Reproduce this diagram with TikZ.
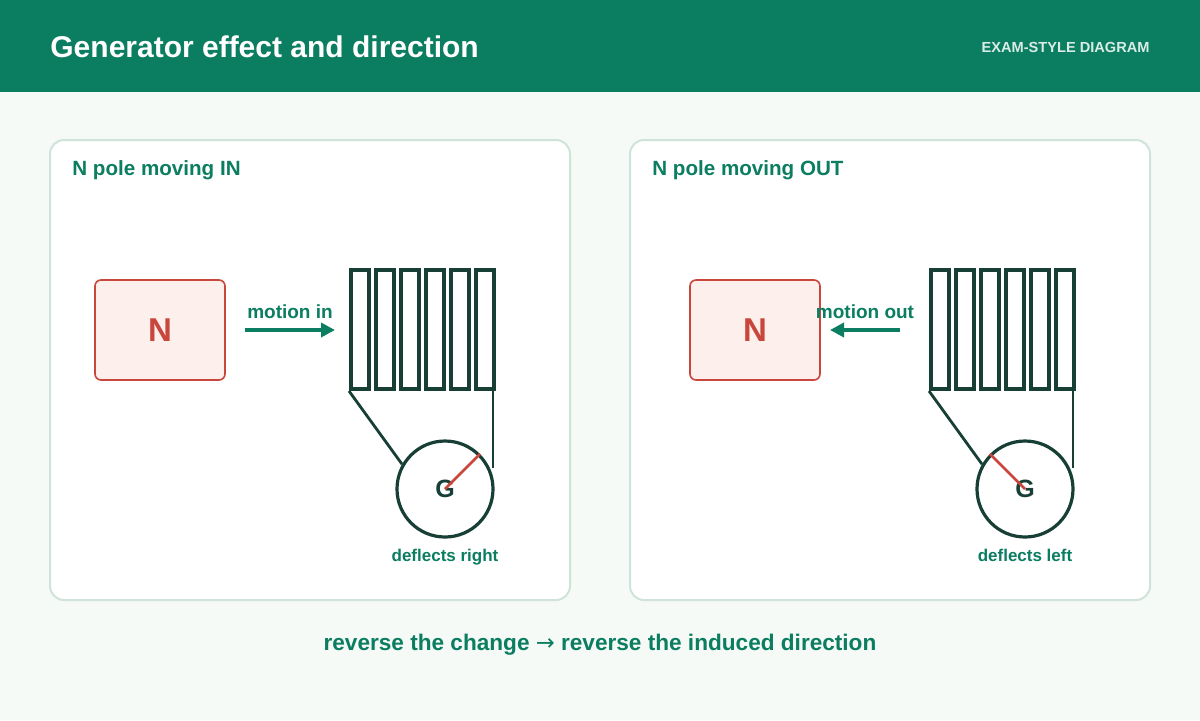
\documentclass[tikz,border=0pt]{standalone}
\usepackage{fontspec}
\setmainfont{Liberation Sans}
\newfontfamily\arrowfont{DejaVu Sans}
\usetikzlibrary{arrows.meta,positioning}
\definecolor{hdgreen}{RGB}{11,125,96}
\definecolor{bgpale}{RGB}{245,250,246}
\definecolor{panelline}{RGB}{207,227,218}
\definecolor{coildark}{RGB}{23,63,53}
\definecolor{magred}{RGB}{201,70,61}
\definecolor{magfill}{RGB}{253,239,236}
\tikzset{
  panel/.style={draw=panelline, line width=1pt, fill=white, rounded corners=7pt},
  magnet/.style={draw=magred, line width=0.8pt, fill=magfill, rounded corners=3pt},
  turn/.style={draw=coildark, line width=2pt},
  lead/.style={draw=coildark, line width=1.4pt},
  galvo/.style={circle, draw=coildark, line width=1.6pt, minimum size=48pt, inner sep=0pt,
    font=\bfseries\fontsize{12.5}{12.5}\selectfont, text=coildark},
  needle/.style={draw=magred, line width=1.4pt},
  motion/.style={-{Triangle[length=7pt,width=7pt]}, draw=hdgreen, line width=1.8pt},
  lbl/.style={text=hdgreen, inner sep=0pt, font=\bfseries\fontsize{9.5}{9.5}\selectfont}
}
\begin{document}
\begin{tikzpicture}[x=0.5pt,y=-0.5pt]
\useasboundingbox (0,0) rectangle (1200,720);
\fill[bgpale] (0,0) rectangle (1200,720);
% header
\fill[hdgreen] (0,0) rectangle (1200,92);
\node[anchor=west, inner sep=0pt, text=white, font=\bfseries\fontsize{15}{15}\selectfont] (title) at (50,47) {Generator effect and direction};
\node[anchor=east, inner sep=0pt, text=white!85!hdgreen, font=\bfseries\fontsize{7.3}{7.3}\selectfont] (tag) at (1150,47) {EXAM-STYLE DIAGRAM};

% panels
\draw[panel] (50,140) rectangle (570,600);
\draw[panel] (630,140) rectangle (1150,600);
\node[anchor=west, lbl, font=\bfseries\fontsize{10.3}{10.3}\selectfont] (headL) at (72,170) {N pole moving IN};
\node[anchor=west, lbl, font=\bfseries\fontsize{10.3}{10.3}\selectfont] (headR) at (652,170) {N pole moving OUT};

% magnets
\node[magnet, minimum width=65pt, minimum height=50pt, text=magred, font=\bfseries\fontsize{16.5}{16.5}\selectfont] (magL) at (160,330) {N};
\node[magnet, minimum width=65pt, minimum height=50pt, text=magred, font=\bfseries\fontsize{16.5}{16.5}\selectfont] (magR) at (755,330) {N};

% coils
\foreach \ox/\c in {0/L,580/R} {
  \foreach \k in {0,...,5}
    \draw[turn] (351+\ox+25*\k,270) rectangle (369+\ox+25*\k,389);
  \coordinate (topleft\c) at (349+\ox,391);
  \coordinate (topright\c) at (493+\ox,391);
}

% galvanometers
\node[galvo] (gL) at (445,489) {G};
\node[galvo] (gR) at (1025,489) {G};
\coordinate (endL) at (493,468);
\coordinate (endR) at (1073,468);
\draw[lead] (topleftL) -- (gL.150);
\draw[lead] (toprightL) -- (endL);
\draw[lead] (topleftR) -- (gR.150);
\draw[lead] (toprightR) -- (endR);
\draw[needle] (gL.center) -- (gL.45);
\draw[needle] (gR.center) -- (gR.135);
\node[lbl, anchor=base, font=\bfseries\fontsize{8.5}{8.5}\selectfont] (defL) at (445,561) {deflects right};
\node[lbl, anchor=base, font=\bfseries\fontsize{8.5}{8.5}\selectfont] (defR) at (1025,561) {deflects left};

% motion arrows
\coordinate (inA) at (245,330);
\coordinate (inB) at (335,330);
\coordinate (outA) at (900,330);
\coordinate (outB) at (830,330);
\draw[motion] (inA) -- (inB);
\draw[motion] (outA) -- (outB);
\node[lbl] (motL) at (290,312) {motion in};
\node[lbl] (motR) at (865,312) {motion out};

% summary
\node[lbl, font=\bfseries\fontsize{11.3}{11.3}\selectfont] (sum) at (600,645) {reverse the change {\arrowfont\mdseries→} reverse the induced direction};
\end{tikzpicture}
\end{document}
